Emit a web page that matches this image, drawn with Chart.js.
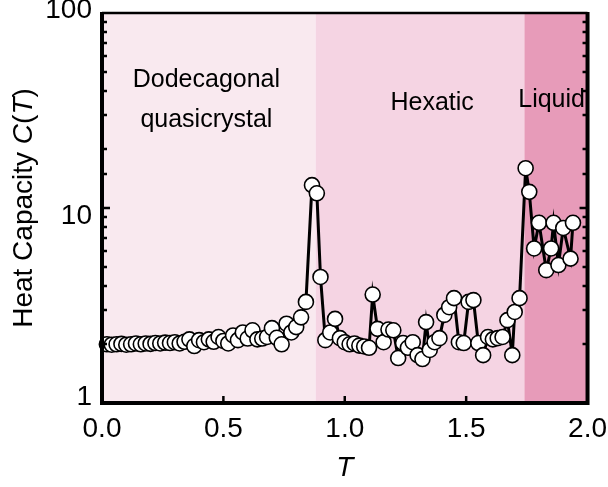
<!DOCTYPE html>
<html>
<head>
<meta charset="utf-8">
<script src="https://cdn.jsdelivr.net/npm/chart.js@4"></script>
<style>
  body { margin: 0; background: #fff; }
  .wrap { width: 608px; height: 487px; }
</style>
</head>
<body>
<div class="wrap"><canvas class="heat-chart"></canvas></div>
<script>
// Temperature values (x axis)
const temps = [
  0.02, 0.04, 0.06, 0.08, 0.10, 0.12, 0.14, 0.16, 0.18, 0.20,
  0.22, 0.24, 0.26, 0.28, 0.30, 0.32, 0.34, 0.36, 0.38, 0.40,
  0.42, 0.44, 0.46, 0.48, 0.50, 0.52, 0.54, 0.56, 0.58, 0.60,
  0.62, 0.64, 0.66, 0.68, 0.70, 0.72, 0.74, 0.76, 0.78, 0.80,
  0.82, 0.84, 0.865, 0.885, 0.90, 0.92, 0.94, 0.96, 0.98, 1.00,
  1.02, 1.04, 1.06, 1.08, 1.10, 1.115, 1.135, 1.16, 1.18, 1.20,
  1.22, 1.24, 1.26, 1.28, 1.30, 1.32, 1.335, 1.35, 1.37, 1.39,
  1.41, 1.43, 1.45, 1.47, 1.49, 1.51, 1.53, 1.55, 1.57, 1.59,
  1.61, 1.63, 1.65, 1.67, 1.69, 1.70, 1.72, 1.745, 1.76, 1.78,
  1.80, 1.83, 1.85, 1.86, 1.88, 1.90, 1.93, 1.94
];

// Heat capacity values C(T)
const heatCap = [
  2.00, 1.99, 2.00, 2.01, 1.99, 2.00, 2.02, 2.00, 2.02, 2.01,
  2.03, 2.02, 2.04, 2.03, 2.05, 2.02, 2.06, 2.12, 1.96, 2.10,
  2.05, 2.12, 2.06, 2.18, 2.08, 2.02, 2.22, 2.10, 2.30, 2.14,
  2.36, 2.12, 2.14, 2.18, 2.42, 2.16, 2.00, 2.55, 2.30, 2.45,
  2.75, 3.30, 13.1, 11.9, 4.43, 2.10, 2.30, 2.70, 2.15, 2.05,
  2.00, 2.02, 1.97, 1.95, 1.92, 3.60, 2.40, 2.05, 2.38, 2.36,
  1.70, 2.03, 1.92, 2.05, 1.76, 1.68, 2.60, 1.87, 2.05, 2.15,
  2.83, 3.10, 3.45, 2.05, 2.03, 3.30, 3.37, 2.03, 1.76, 2.18,
  2.12, 2.15, 2.18, 2.66, 1.76, 2.93, 3.45, 16.0, 12.1, 6.2,
  8.4, 4.8, 6.2, 8.4, 5.1, 7.9, 5.5, 8.4
];

// Phase regions
const regionEdges = [0, 0.88, 1.74, 2.0];
const regionColors = ["#f9e9ef", "#f5d4e3", "#e79bb9"];
const regionLabels = [
  { lines: ["Dodecagonal", "quasicrystal"], x: 0.43, y: 87 },
  { lines: ["Hexatic"], x: 1.36, y: 110 },
  { lines: ["Liquid"], x: 1.852, y: 107 }
];

// Axis ticks
const xTicks = [0, 0.5, 1.0, 1.5, 2.0];
const yLabelTicks = [1, 10, 100];

const FONT = "'Liberation Sans', Arial, sans-serif";

// background shading + region names
const regionPlugin = {
  id: "regions",
  beforeDatasetsDraw(chart) {
    const { ctx, chartArea: a, scales: { x } } = chart;
    ctx.save();
    for (let i = 0; i < regionColors.length; i++) {
      const x0 = x.getPixelForValue(regionEdges[i]);
      const x1 = x.getPixelForValue(regionEdges[i + 1]);
      ctx.fillStyle = regionColors[i];
      ctx.fillRect(x0, a.top, x1 - x0, a.bottom - a.top);
    }
    ctx.fillStyle = "#000";
    ctx.font = "25px " + FONT;
    ctx.textAlign = "center";
    ctx.textBaseline = "alphabetic";
    regionLabels.forEach((r) => {
      r.lines.forEach((line, k) => {
        ctx.fillText(line, x.getPixelForValue(r.x), r.y + k * 40);
      });
    });
    ctx.restore();
  }
};

// frame, inward ticks, y labels, axis titles
const framePlugin = {
  id: "frame",
  afterDraw(chart) {
    const { ctx, chartArea: a, scales: { x, y } } = chart;
    ctx.save();
    ctx.strokeStyle = "#000";
    ctx.fillStyle = "#000";

    // y ticks, both sides
    ctx.lineWidth = 2.5;
    y.ticks.forEach((t) => {
      const py = Math.round(y.getPixelForValue(t.value));
      if (t.value <= 1 || t.value >= 100) return;
      const len = yLabelTicks.includes(t.value) ? 8 : 5;
      ctx.beginPath();
      ctx.moveTo(a.left, py);
      ctx.lineTo(a.left + len, py);
      ctx.moveTo(a.right, py);
      ctx.lineTo(a.right - len, py);
      ctx.stroke();
    });
    // x ticks, bottom
    xTicks.forEach((v) => {
      if (v <= 0 || v >= 2) return;
      const px = x.getPixelForValue(v);
      ctx.beginPath();
      ctx.moveTo(px, a.bottom);
      ctx.lineTo(px, a.bottom - 7);
      ctx.stroke();
    });

    // frame
    ctx.lineWidth = 2.5;
    ctx.beginPath();
    ctx.moveTo(a.left, a.top);
    ctx.lineTo(a.right, a.top);
    ctx.stroke();
    ctx.lineWidth = 4;
    ctx.beginPath();
    ctx.moveTo(a.left, a.top - 1);
    ctx.lineTo(a.left, a.bottom);
    ctx.lineTo(a.right, a.bottom);
    ctx.lineTo(a.right, a.top - 1);
    ctx.stroke();

    // y tick labels
    ctx.font = "28px " + FONT;
    ctx.textAlign = "right";
    ctx.textBaseline = "middle";
    yLabelTicks.forEach((v) => {
      let py = y.getPixelForValue(v);
      if (v === 1) py -= 6;
      if (v === 10) py += 8;
      if (v === 100) py -= 3;
      ctx.fillText(String(v), a.left - 10, py);
    });

    // y title with italic parts
    const parts = [
      ["Heat Capacity ", false],
      ["C", true],
      ["(", false],
      ["T", true],
      [")", false]
    ];
    const fontFor = (it) => (it ? "italic " : "") + "28px " + FONT;
    let total = 0;
    parts.forEach(([s, it]) => {
      ctx.font = fontFor(it);
      total += ctx.measureText(s).width;
    });
    ctx.translate(32, 208);
    ctx.rotate(-Math.PI / 2);
    ctx.textAlign = "left";
    ctx.textBaseline = "alphabetic";
    let cx = -total / 2;
    parts.forEach(([s, it]) => {
      ctx.font = fontFor(it);
      ctx.fillText(s, cx, 0);
      cx += ctx.measureText(s).width;
    });
    ctx.setTransform(1, 0, 0, 1, 0, 0);

    // x title
    ctx.font = "italic 28px " + FONT;
    ctx.textAlign = "center";
    ctx.fillText("T", x.getPixelForValue(1.0), 476);
    ctx.restore();
  }
};

const ctx = document.querySelector(".heat-chart").getContext("2d");

const data = {
  datasets: [
    {
      data: temps.map((t, i) => ({ x: t, y: heatCap[i] })),
      borderColor: "#000",
      borderWidth: 3,
      pointRadius: 7.5,
      pointBackgroundColor: "#fff",
      pointBorderColor: "#000",
      pointBorderWidth: 1.6,
      tension: 0,
      clip: false
    }
  ]
};

const config = {
  type: "line",
  data: data,
  options: {
    responsive: true,
    maintainAspectRatio: false,
    animation: false,
    layout: { padding: { left: 0, right: 17, top: 13, bottom: 0 } },
    plugins: {
      legend: { display: false },
      tooltip: { enabled: false }
    },
    scales: {
      x: {
        type: "linear",
        min: 0,
        max: 2,
        grid: { display: false },
        border: { display: false },
        afterBuildTicks: (s) => {
          s.ticks = xTicks.map((v) => ({ value: v }));
        },
        afterFit: (s) => {
          s.height = 84;
        },
        ticks: {
          padding: 1,
          color: "#000",
          font: { family: FONT, size: 28 },
          maxRotation: 0,
          callback: (v) => Number(v).toFixed(1)
        }
      },
      y: {
        type: "logarithmic",
        min: 1,
        max: 100,
        grid: { display: false },
        border: { display: false },
        afterFit: (s) => {
          s.width = 102;
        },
        ticks: { display: false }
      }
    }
  },
  plugins: [regionPlugin, framePlugin]
};

const heatChart = new Chart(ctx, config);
</script>
</body>
</html>
